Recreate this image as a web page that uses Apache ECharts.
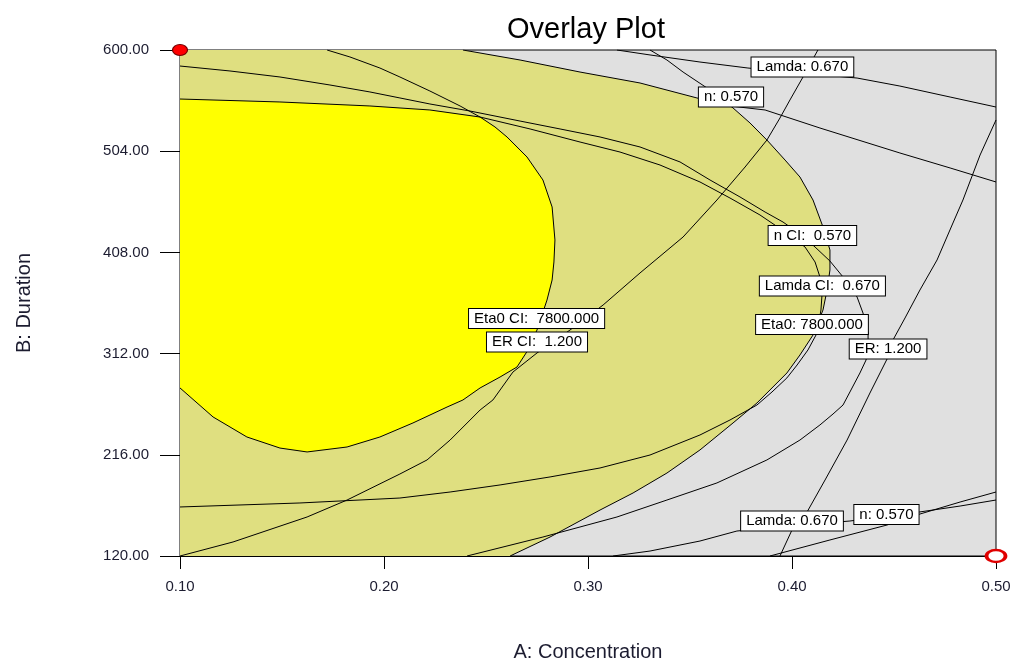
<!DOCTYPE html>
<html>
<head>
<meta charset="utf-8">
<script src="https://cdn.jsdelivr.net/npm/echarts@6/dist/echarts.min.js"></script>
<style>
  html, body { margin: 0; padding: 0; background: #ffffff; overflow: hidden; }
  #chart { width: 1011px; height: 662px; }
</style>
</head>
<body>
<div id="chart"></div>
<script>
// Factor ranges and tick steps
const concentrationRange = [0.10, 0.50];
const concentrationStep = 0.10;
const durationRange = [120, 600];
const durationStep = 96;

// Contour lines, each point is [A: Concentration, B: Duration]
const eta0 = [
  [0.3304, 600], [0.3387, 590.5], [0.3466, 579.1], [0.3583, 564.0], [0.3647, 554.5],
  [0.3711, 545.0], [0.3794, 530.8], [0.3877, 514.6], [0.3966, 495.6], [0.4039, 479.5],
  [0.4103, 457.7], [0.4152, 432.1], [0.4186, 410.3], [0.4186, 391.3], [0.4172, 372.3],
  [0.4152, 353.4], [0.4103, 329.6], [0.4039, 310.7], [0.3975, 293.6], [0.3892, 277.5],
  [0.3828, 265.1], [0.3711, 246.2], [0.3549, 220.6], [0.3387, 198.7], [0.3221, 179.8],
  [0.3059, 163.6], [0.2814, 138.0], [0.2618, 120.0]
];
const eta0CI = [
  [0.1721, 600], [0.1833, 593.4], [0.1980, 582.9], [0.2078, 574.4], [0.2225, 561.1],
  [0.2373, 546.9], [0.2471, 536.4], [0.2544, 527.0], [0.2603, 517.5], [0.2701, 498.5],
  [0.2779, 476.7], [0.2824, 451.1], [0.2838, 419.8], [0.2833, 398.9], [0.2824, 381.8],
  [0.2799, 362.8], [0.2750, 334.4], [0.2706, 315.4], [0.2652, 299.3], [0.2569, 289.8],
  [0.2471, 279.4], [0.2387, 268.0], [0.2309, 261.3], [0.2142, 246.2], [0.1980, 232.9],
  [0.1819, 223.4], [0.1623, 218.7], [0.1490, 222.4], [0.1328, 232.9], [0.1162, 251.9],
  [0.1000, 279.4]
];
const nUpper = [
  [0.2387, 600], [0.2667, 590.5], [0.2961, 579.1], [0.3255, 568.7], [0.3534, 554.5],
  [0.3696, 546.9], [0.3868, 543.1], [0.4137, 526.0], [0.4529, 502.3], [0.4775, 488.1],
  [0.5000, 474.8]
];
const nLower = [
  [0.3892, 120.0], [0.4186, 135.2], [0.4466, 149.4], [0.4627, 159.8], [0.4824, 171.2],
  [0.5000, 180.7]
];
const nCI = [
  [0.1000, 553.5], [0.1490, 550.7], [0.1931, 546.9], [0.2225, 543.1], [0.2471, 536.4],
  [0.2716, 525.1], [0.2961, 512.7], [0.3157, 503.2], [0.3353, 490.9], [0.3549, 474.8],
  [0.3696, 459.6], [0.3843, 443.5], [0.3966, 427.4], [0.4064, 413.1], [0.4113, 398.9],
  [0.4137, 384.7], [0.4147, 367.6], [0.4142, 353.4], [0.4123, 331.5], [0.4078, 315.4],
  [0.4025, 301.2], [0.3975, 288.9], [0.3902, 275.6], [0.3828, 263.2], [0.3696, 249.0],
  [0.3549, 234.8], [0.3304, 215.8], [0.3059, 203.5], [0.2814, 195.0], [0.2569, 187.4],
  [0.2324, 180.7], [0.2078, 175.0], [0.1588, 170.3], [0.1000, 166.5]
];
const lamdaUpper = [
  [0.3142, 600], [0.3304, 595.3], [0.3549, 588.6], [0.3784, 582.9], [0.4039, 578.2],
  [0.4319, 573.4], [0.4529, 565.8], [0.4775, 555.4], [0.5000, 545.9]
];
const lamdaLower = [
  [0.3123, 120.0], [0.3304, 124.7], [0.3549, 134.2], [0.3730, 143.7], [0.3990, 148.5],
  [0.4284, 153.2], [0.4627, 161.8], [0.4824, 167.4], [0.5000, 173.1]
];
const lamdaCI = [
  [0.1000, 584.8], [0.1245, 580.1], [0.1490, 574.4], [0.1735, 566.8], [0.1931, 560.2],
  [0.2078, 554.5], [0.2225, 548.8], [0.2422, 542.1], [0.2667, 532.6], [0.2863, 525.1],
  [0.3059, 517.5], [0.3255, 508.0], [0.3451, 493.8], [0.3598, 476.7], [0.3745, 460.6],
  [0.3868, 446.3], [0.3956, 436.8], [0.4039, 425.5], [0.4113, 413.1], [0.4186, 399.8],
  [0.4250, 384.7], [0.4319, 365.7], [0.4348, 350.5], [0.4373, 331.5], [0.4373, 320.2],
  [0.4363, 305.9], [0.4333, 293.6], [0.4284, 275.6], [0.4250, 263.2], [0.4201, 254.7],
  [0.4137, 244.3], [0.4039, 230.0], [0.3877, 211.1], [0.3632, 189.3], [0.3387, 173.1],
  [0.3142, 157.0], [0.2779, 138.0], [0.2407, 120.0]
];
const er = [
  [0.5000, 533.6], [0.4922, 500.4], [0.4838, 457.7], [0.4789, 435.9], [0.4711, 400.8],
  [0.4627, 372.3], [0.4554, 345.8], [0.4495, 324.9], [0.4466, 306.9], [0.4382, 274.6],
  [0.4270, 230.0], [0.4162, 192.1], [0.4074, 161.8], [0.4000, 144.7], [0.3941, 120.0]
];
const erCI = [
  [0.4127, 600], [0.4054, 574.4], [0.3990, 552.6], [0.3941, 535.5], [0.3877, 514.6],
  [0.3770, 489.0], [0.3632, 457.7], [0.3466, 422.6], [0.3255, 388.5], [0.3074, 358.1],
  [0.2912, 334.4], [0.2750, 312.6], [0.2632, 294.5], [0.2534, 268.0], [0.2471, 258.5],
  [0.2324, 230.0], [0.2211, 211.1], [0.2078, 197.8], [0.1819, 173.1], [0.1623, 157.0],
  [0.1260, 133.3], [0.1000, 120.0]
];

// Contour labels: [A, B, text]
const contourLabels = [
  [0.4051, 583.9, 'Lamda: 0.670'],
  [0.3701, 555.4, 'n: 0.570'],
  [0.4100, 424.0, 'n CI:  0.570'],
  [0.4149, 376.1, 'Lamda CI:  0.670'],
  [0.4098, 339.6, 'Eta0: 7800.000'],
  [0.4471, 316.3, 'ER: 1.200'],
  [0.2748, 345.3, 'Eta0 CI:  7800.000'],
  [0.2750, 323.0, 'ER CI:  1.200'],
  [0.4000, 153.2, 'Lamda: 0.670'],
  [0.4463, 159.3, 'n: 0.570']
];

// Flagged corner points
const flagFilled = [[0.10, 600]];
const flagOpen = [[0.50, 120]];

// Shaded regions built from the contours
// mean responses inside all limits
const meanRegion = [[0.10, 600]].concat(nUpper.slice(0, 6), eta0.slice(5), [[0.10, 120]]);
// confidence bounds inside all limits
const ciRegion = nCI.slice(0, 4).concat(eta0CI.slice(6));

const FONT = '"Liberation Sans", Arial, sans-serif';
const TEXT = '#1c1c30';

function regionSeries(points, color, z) {
  return {
    type: 'custom',
    coordinateSystem: 'cartesian2d',
    silent: true,
    z: z,
    data: [points[0]],
    renderItem: function (params, api) {
      return {
        type: 'polygon',
        shape: { points: points.map(function (p) { return api.coord(p); }) },
        style: { fill: color, stroke: null }
      };
    }
  };
}

function contourSeries(points) {
  return {
    type: 'line',
    data: points,
    symbol: 'none',
    silent: true,
    z: 5,
    lineStyle: { color: '#000000', width: 1 },
    animation: false
  };
}

const chart = echarts.init(document.getElementById('chart'), null, { renderer: 'canvas' });

chart.setOption({
  animation: false,
  backgroundColor: '#ffffff',
  title: {
    text: 'Overlay Plot',
    left: 581,
    textAlign: 'center',
    top: 10,
    textStyle: { fontFamily: FONT, fontSize: 29, fontWeight: 'normal', color: '#000000' }
  },
  grid: {
    left: 180, right: 15, top: 50, bottom: 106,
    outerBoundsMode: 'none',
    containLabel: false,
    show: true,
    backgroundColor: '#e0e0e0',
    borderColor: '#000000',
    borderWidth: 1
  },
  xAxis: {
    type: 'value',
    min: concentrationRange[0],
    max: concentrationRange[1],
    interval: concentrationStep,
    name: 'A: Concentration',
    nameLocation: 'middle',
    nameGap: 86,
    nameTextStyle: { fontFamily: FONT, fontSize: 20, color: TEXT },
    axisLine: { show: true, onZero: false, lineStyle: { color: '#000000', width: 1 } },
    axisTick: { show: true, length: 13, lineStyle: { color: '#000000' } },
    axisLabel: {
      margin: 23, fontFamily: FONT, fontSize: 15, color: TEXT,
      formatter: function (v) { return v.toFixed(2); }
    },
    splitLine: { show: false }
  },
  yAxis: {
    type: 'value',
    min: durationRange[0],
    max: durationRange[1],
    interval: durationStep,
    name: 'B: Duration',
    nameLocation: 'middle',
    nameGap: 146,
    nameRotate: 90,
    nameTextStyle: { fontFamily: FONT, fontSize: 20, color: TEXT },
    axisLine: { show: true, onZero: false, lineStyle: { color: '#000000', width: 1 } },
    axisTick: { show: true, length: 20, lineStyle: { color: '#000000' } },
    axisLabel: {
      margin: 31, fontFamily: FONT, fontSize: 15, color: TEXT,
      formatter: function (v) { return v.toFixed(2); }
    },
    splitLine: { show: false }
  },
  series: [
    regionSeries(meanRegion, '#dfdf80', 1),
    regionSeries(ciRegion, '#ffff00', 2),
    contourSeries(eta0),
    contourSeries(eta0CI),
    contourSeries(nUpper),
    contourSeries(nLower),
    contourSeries(nCI),
    contourSeries(lamdaUpper),
    contourSeries(lamdaLower),
    contourSeries(lamdaCI),
    contourSeries(er),
    contourSeries(erCI),
    {
      type: 'scatter',
      z: 10,
      clip: false,
      silent: true,
      symbolSize: 0,
      itemStyle: { opacity: 1 },
      data: contourLabels.map(function (d) { return { value: [d[0], d[1]], name: d[2] }; }),
      label: {
        show: true,
        position: 'inside',
        formatter: '{b}',
        fontFamily: FONT,
        fontSize: 15,
        lineHeight: 15,
        color: '#000000',
        opacity: 1,
        backgroundColor: '#ffffff',
        borderColor: '#000000',
        borderWidth: 1,
        padding: [2, 5, 2, 5]
      }
    },
    {
      type: 'scatter',
      z: 12,
      clip: false,
      silent: true,
      symbol: 'circle',
      symbolSize: [15, 11],
      data: flagFilled,
      itemStyle: { color: '#ff0000', borderColor: '#700000', borderWidth: 1, opacity: 1 }
    },
    {
      type: 'scatter',
      z: 12,
      clip: false,
      silent: true,
      symbol: 'circle',
      symbolSize: [19, 12],
      data: flagOpen,
      itemStyle: { color: '#ffffff', borderColor: '#e00000', borderWidth: 3, opacity: 1 }
    }
  ]
});
</script>
</body>
</html>
